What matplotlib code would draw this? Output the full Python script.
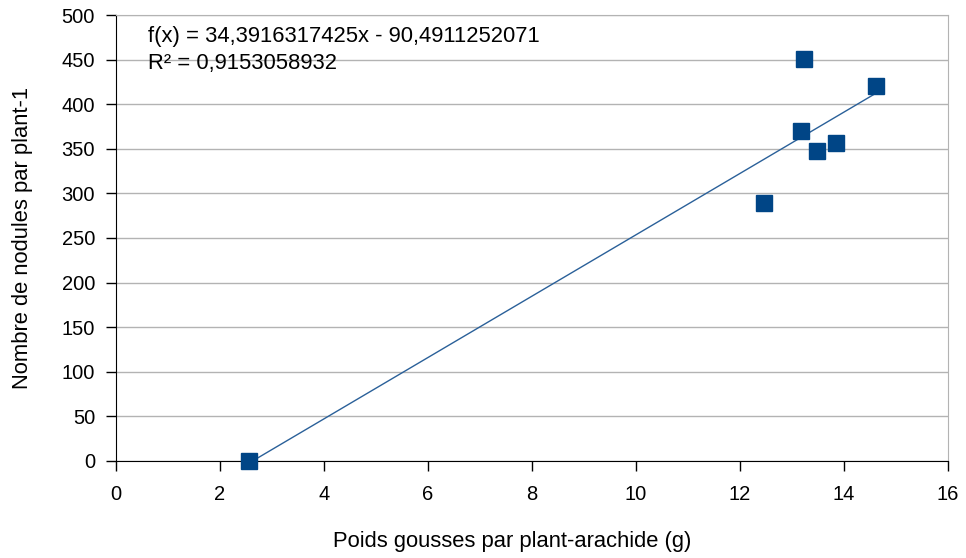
import matplotlib.pyplot as plt
import numpy as np

plt.rcParams['font.family'] = ['Liberation Sans', 'DejaVu Sans']

# données
poids = [2.56, 12.46, 13.17, 13.24, 13.48, 13.86, 14.63]
nodules = [0, 289, 370, 451, 348, 356, 420]

pente = 34.3916317425
ordonnee = -90.4911252071
r2 = 0.9153058932

fig = plt.figure(figsize=(9.66, 5.58), dpi=100)
ax = fig.add_axes([0.120, 0.174, 0.861, 0.799])

ax.set_axisbelow(True)
ax.yaxis.grid(True, color="#b3b3b3", linewidth=1)

# droite de tendance
xs = np.array([min(poids), max(poids)])
ax.plot(xs, pente * xs + ordonnee, color="#2a6099", linewidth=1, zorder=2)

ax.plot(poids, nodules, linestyle="none", marker="s", markersize=11.5,
        color="#004586", markeredgecolor="#004586", zorder=3, clip_on=False)

ax.set_xlim(0, 16)
ax.set_ylim(0, 500)
ax.set_xticks(np.arange(0, 17, 2))
ax.set_yticks(np.arange(0, 501, 50))
ax.tick_params(direction="out", length=7, width=1, labelsize=14.5)
ax.tick_params(axis="y", pad=8)
ax.tick_params(axis="x", pad=10)

ax.spines["top"].set_color("#b3b3b3")
ax.spines["right"].set_color("#b3b3b3")

ax.set_xlabel("Poids gousses par plant-arachide (g)", fontsize=15.8)
ax.set_ylabel("Nombre de nodules par plant-1", fontsize=15.8)
ax.xaxis.set_label_coords(0.476, -0.157)
ax.yaxis.set_label_coords(-0.1, 0.5)

eq = "f(x) = " + f"{pente:.10f}".replace(".", ",") + "x - " + f"{-ordonnee:.10f}".replace(".", ",")
ax.text(0.0385, 0.953, eq, transform=ax.transAxes, fontsize=15.8, va="center")
ax.text(0.0385, 0.892, "R² = " + f"{r2:.10f}".replace(".", ","),
        transform=ax.transAxes, fontsize=15.8, va="center")

fig.savefig("out.png", dpi=100)
